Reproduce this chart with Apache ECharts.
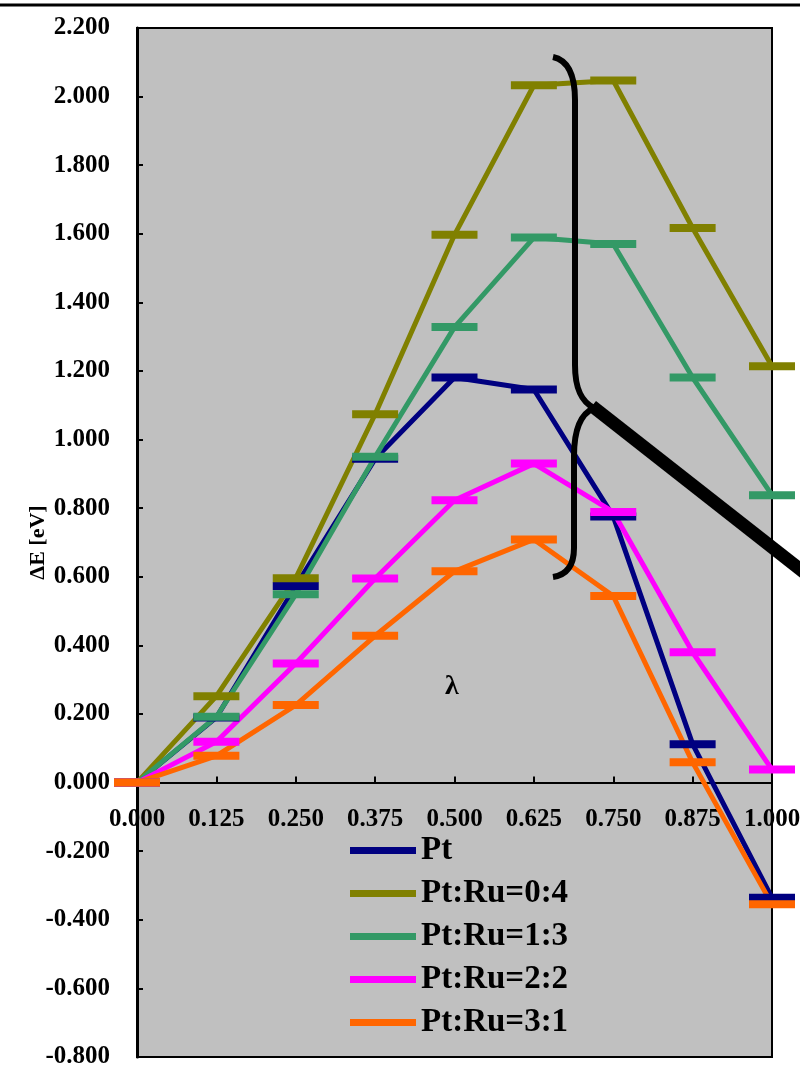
<!DOCTYPE html>
<html>
<head>
<meta charset="utf-8">
<script src="https://cdn.jsdelivr.net/npm/echarts@6/dist/echarts.min.js"></script>
<style>
  html, body { margin: 0; padding: 0; background: #fff; }
  #chart { width: 800px; height: 1074px; }
</style>
</head>
<body>
<div id="chart"></div>
<script>
// reaction coordinate (lambda)
var lambdas = [0, 0.125, 0.25, 0.375, 0.5, 0.625, 0.75, 0.875, 1.0];

// energies in eV
var ptValues   = [0.000, 0.190, 0.573, 0.944, 1.181, 1.146, 0.776, 0.112, -0.336];
var ru04Values = [0.000, 0.252, 0.596, 1.074, 1.597, 2.033, 2.047, 1.617, 1.214];
var ru13Values = [0.000, 0.192, 0.549, 0.950, 1.328, 1.589, 1.570, 1.181, 0.838];
var ru22Values = [0.000, 0.119, 0.347, 0.595, 0.823, 0.930, 0.789, 0.380, 0.038];
var ru31Values = [0.000, 0.078, 0.226, 0.428, 0.616, 0.709, 0.544, 0.059, -0.355];

var seriesNames  = ['Pt', 'Pt:Ru=0:4', 'Pt:Ru=1:3', 'Pt:Ru=2:2', 'Pt:Ru=3:1'];
var seriesColors = ['#000080', '#808000', '#339966', '#ff00ff', '#ff6600'];
var seriesValues = [ptValues, ru04Values, ru13Values, ru22Values, ru31Values];

var yMin = -0.8, yMax = 2.2;
var font = '"Liberation Serif", "Times New Roman", serif';

var gridTop = 28, gridBottom = 17, chartH = 1074;
// the x axis sits on y = 0, so shift it up from the grid bottom
var plotH = chartH - gridTop - gridBottom;
var xAxisOffset = -plotH * (0 - yMin) / (yMax - yMin);

function pairs(vals) {
  var out = [];
  for (var i = 0; i < lambdas.length; i++) {
    out.push([lambdas[i], vals[i]]);
  }
  return out;
}

var series = [];
for (var s = 0; s < seriesNames.length; s++) {
  series.push({
    name: seriesNames[s],
    type: 'line',
    data: pairs(seriesValues[s]),
    symbol: 'rect',
    symbolSize: [46, 8],
    showAllSymbol: true,
    clip: false,
    color: seriesColors[s],
    lineStyle: { width: 5, color: seriesColors[s] },
    itemStyle: { color: seriesColors[s] },
    emphasis: { disabled: true }
  });
}

// brace and pointer drawn on top
var braceStyle = { stroke: '#000', lineWidth: 6, fill: null };

var myChart = echarts.init(document.getElementById('chart'));

var option = {
  animation: false,
  grid: {
    left: 137, right: 28, top: gridTop, bottom: gridBottom,
    containLabel: false,
    outerBoundsMode: 'none',
    show: true,
    backgroundColor: '#c0c0c0',
    borderColor: '#000',
    borderWidth: 2
  },
  legend: {
    orient: 'vertical',
    left: 345,
    top: 829,
    icon: 'rect',
    itemWidth: 66,
    itemHeight: 7,
    itemGap: 10,
    textStyle: { fontFamily: font, fontWeight: 'bold', fontSize: 33, lineHeight: 33, color: '#000' },
    data: seriesNames
  },
  xAxis: {
    type: 'value',
    position: 'bottom',
    offset: xAxisOffset,
    min: 0,
    max: 1,
    interval: 0.125,
    axisLine: { onZero: false, lineStyle: { color: '#000', width: 2 } },
    axisTick: { inside: true, length: 6, lineStyle: { color: '#000', width: 2 } },
    splitLine: { show: false },
    axisLabel: {
      margin: 24,
      fontFamily: font, fontWeight: 'bold', fontSize: 25, color: '#000',
      formatter: function (v) { return v.toFixed(3); }
    }
  },
  yAxis: {
    type: 'value',
    min: yMin,
    max: yMax,
    interval: 0.2,
    name: 'ΔE [eV]',
    nameLocation: 'middle',
    nameGap: 88,
    nameMoveOverlap: false,
    nameRotate: 90,
    nameTextStyle: { fontFamily: font, fontWeight: 'bold', fontSize: 22, color: '#000' },
    axisLine: { show: true, lineStyle: { color: '#000', width: 3 } },
    axisTick: { inside: true, length: 6, lineStyle: { color: '#000', width: 2 } },
    splitLine: { show: false },
    axisLabel: {
      margin: 27,
      fontFamily: font, fontWeight: 'bold', fontSize: 25, color: '#000',
      formatter: function (v) { return v.toFixed(3); }
    }
  },
  graphic: [
    { type: 'line', z: 100, shape: { x1: 0, y1: 5, x2: 800, y2: 5 }, style: { stroke: '#000', lineWidth: 3 } },
    { type: 'text', z: 100, x: 445, y: 673, style: { text: 'λ', font: 'bold 28px ' + font, fill: '#000' } },
    { type: 'bezierCurve', z: 100, shape: { x1: 553, y1: 57, cpx1: 567, cpy1: 60, cpx2: 575, cpy2: 74, x2: 575, y2: 100 }, style: braceStyle },
    { type: 'line', z: 100, shape: { x1: 575, y1: 100, x2: 575, y2: 365 }, style: braceStyle },
    { type: 'bezierCurve', z: 100, shape: { x1: 575, y1: 365, cpx1: 575, cpy1: 390, cpx2: 582, cpy2: 402, x2: 594, y2: 408 }, style: braceStyle },
    { type: 'bezierCurve', z: 100, shape: { x1: 594, y1: 408, cpx1: 580, cpy1: 414, cpx2: 574, cpy2: 430, x2: 574, y2: 456 }, style: braceStyle },
    { type: 'line', z: 100, shape: { x1: 574, y1: 456, x2: 574, y2: 548 }, style: braceStyle },
    { type: 'bezierCurve', z: 100, shape: { x1: 574, y1: 548, cpx1: 574, cpy1: 566, cpx2: 566, cpy2: 575, x2: 553, y2: 577 }, style: braceStyle },
    { type: 'line', z: 100, shape: { x1: 592, y1: 406, x2: 806, y2: 574 }, style: { stroke: '#000', lineWidth: 13 } }
  ],
  series: series
};

myChart.setOption(option);
</script>
</body>
</html>
